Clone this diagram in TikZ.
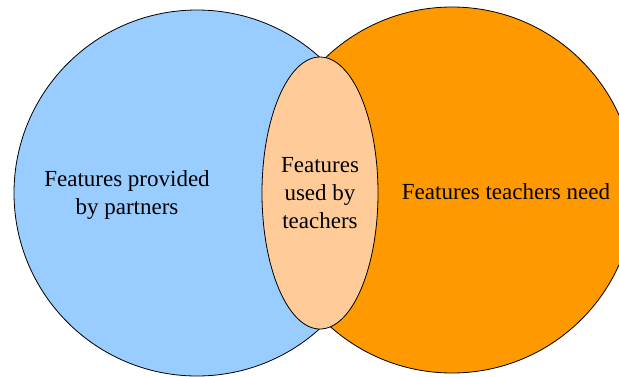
\documentclass[tikz,border=0pt]{standalone}
\usepackage{fontspec}
\setmainfont{Liberation Serif}
\usepackage{tikz}
\usetikzlibrary{shapes,positioning}
\definecolor{partnerblue}{HTML}{99CCFF}
\definecolor{needorange}{HTML}{FF9900}
\definecolor{usedpeach}{HTML}{FFCC99}
\tikzset{set node/.style={circle,draw=black,line width=.8pt,minimum size=366pt,inner sep=0pt},
         used node/.style={ellipse,draw=black,line width=.8pt,fill=usedpeach,minimum width=116pt,minimum height=272pt,inner sep=0pt,align=center},
         label text/.style={align=center,font=\fontsize{23}{28}\selectfont},
            }
\begin{document}
\begin{tikzpicture}[x=1pt,y=-1pt]

    \useasboundingbox (0,0) rectangle (619,376);

    \node[set node,fill=partnerblue] (partners) at (197,193) {};
    \node[set node,fill=needorange] (need) at (452,190) {};
    \node[used node,label text] (used) at (320,193) {Features\\used by\\teachers};

    \node[label text] (provided) at (127,195) {Features provided\\by partners};
    \node[label text] (needtext) at (506,192) {Features teachers need};

\end{tikzpicture}
\end{document}
